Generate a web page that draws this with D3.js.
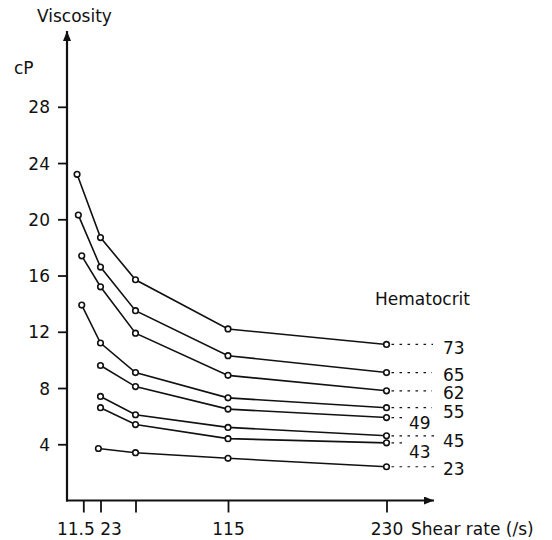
<!DOCTYPE html>
<html>
<head>
<meta charset="utf-8">
<script src="https://cdn.jsdelivr.net/npm/d3@7"></script>
<style>
  body { margin: 0; background: #fff; }
  svg text { font-family: "DejaVu Sans", sans-serif; font-size: 17px; fill: #111; }
</style>
</head>
<body>
<div class="chart"></div>
<script>
// hematocrit of each curve (%)
const hematocrit = ["73", "65", "62", "55", "49", "45", "43", "23"];
// shear rate of each point (/s)
const shear_rates = [
  [7.1, 23, 46, 115, 230],
  [8.0, 23, 46, 115, 230],
  [10.4, 23, 46, 115, 230],
  [10.4, 23, 46, 115, 230],
  [23, 46, 115, 230],
  [23, 46, 115, 230],
  [23, 46, 115, 230],
  [21.6, 46, 115, 230],
];
// viscosity (cP)
const viscosity = [
  [23.2, 18.7, 15.7, 12.2, 11.1],
  [20.3, 16.6, 13.5, 10.3, 9.1],
  [17.4, 15.2, 11.9, 8.9, 7.8],
  [13.9, 11.2, 9.1, 7.3, 6.6],
  [9.6, 8.1, 6.5, 5.9],
  [7.4, 6.1, 5.2, 4.6],
  [6.6, 5.4, 4.4, 4.1],
  [3.7, 3.4, 3.0, 2.4],
];
const x_ticks = [11.5, 23, 46, 115, 230];
const x_tick_labels = ["11.5", "23", "", "115", "230"];
const y_ticks = [4, 8, 12, 16, 20, 24, 28];

const width = 552;
const height = 540;

const svg = d3.select(".chart").append("svg")
  .attr("width", width)
  .attr("height", height);

// the drawing's x axis is not quite even, so follow its ticks
const x = d3.scaleLinear()
  .domain([0, 11.5, 23, 46, 115, 230])
  .range([67, 83.3, 100.5, 135.5, 228, 386.5]);
const y = d3.scaleLinear()
  .domain([0, 28])
  .range([500.5, 106.8]);

// arrow heads
const defs = svg.append("defs");
defs.append("marker")
  .attr("id", "arrow")
  .attr("viewBox", "0 0 10 8")
  .attr("refX", 10).attr("refY", 4)
  .attr("markerWidth", 10).attr("markerHeight", 8)
  .attr("markerUnits", "userSpaceOnUse")
  .attr("orient", "auto")
  .append("path")
    .attr("d", "M0,0 L10,4 L0,8 Z")
    .attr("fill", "#111");

// y axis
const yaxis = svg.append("g")
  .attr("class", "yaxis")
  .attr("transform", `translate(${x(0)},0)`)
  .call(d3.axisLeft(y).tickValues(y_ticks).tickSize(9).tickPadding(8));
yaxis.select(".domain").remove();
yaxis.selectAll("line").attr("stroke", "#111").attr("stroke-width", 1.8);
yaxis.selectAll("text")
  .style("font-size", "17px")
  .attr("dy", "0.36em");

svg.append("line")
  .attr("x1", x(0)).attr("y1", y(0) + 1)
  .attr("x2", x(0)).attr("y2", 31)
  .attr("stroke", "#111").attr("stroke-width", 2.2)
  .attr("marker-end", "url(#arrow)");

// x axis
const xaxis = svg.append("g")
  .attr("class", "xaxis")
  .attr("transform", `translate(0,${y(0)})`)
  .call(d3.axisBottom(x).tickValues(x_ticks).tickSize(12)
    .tickFormat((d, i) => x_tick_labels[i]));
xaxis.select(".domain").remove();
xaxis.selectAll("line").attr("stroke", "#111").attr("stroke-width", 1.8);
xaxis.selectAll("text")
  .style("font-size", "17px")
  .attr("y", 34.5)
  .attr("dy", 0)
  .attr("dx", (d, i) => i === 0 ? -8 : i === 1 ? 10 : 0);

svg.append("line")
  .attr("x1", x(0) - 1).attr("y1", y(0))
  .attr("x2", 434).attr("y2", y(0))
  .attr("stroke", "#111").attr("stroke-width", 2.2)
  .attr("marker-end", "url(#arrow)");

// axis titles
svg.append("text").attr("x", 37).attr("y", 22).text("Viscosity");
svg.append("text").attr("x", 14).attr("y", 74).text("cP");
svg.append("text").attr("x", 411).attr("y", 535).text("Shear rate (/s)");
svg.append("text").attr("x", 375).attr("y", 305).text("Hematocrit");

// curves
const series = hematocrit.map((h, i) => ({
  hct: h,
  points: shear_rates[i].map((r, j) => ({ rate: r, visc: viscosity[i][j] })),
}));

const line = d3.line()
  .x(d => x(d.rate))
  .y(d => y(d.visc));

const chart = svg.append("g").attr("class", "curves");
chart.selectAll("path.curve")
  .data(series)
  .enter()
  .append("path")
    .attr("class", "curve")
    .attr("d", d => line(d.points))
    .attr("fill", "none")
    .attr("stroke", "#111")
    .attr("stroke-width", 1.6);

// dotted leaders and hematocrit labels
const label_layout = {
  "73": { x: 443, dy: 9.3, end: 433 },
  "65": { x: 443, dy: 8.5, end: 432 },
  "62": { x: 443, dy: 8.3, end: 432 },
  "55": { x: 443, dy: 10, end: 432 },
  "49": { x: 409, dy: 11.7, end: 407 },
  "45": { x: 443, dy: 11.3, end: 438 },
  "43": { x: 409, dy: 14.7, end: 407 },
  "23": { x: 443, dy: 8.5, end: 438 },
};
const last = d => d.points[d.points.length - 1];

chart.selectAll("line.leader")
  .data(series)
  .enter()
  .append("line")
    .attr("class", "leader")
    .attr("x1", d => x(last(d).rate) + 5)
    .attr("y1", d => y(last(d).visc))
    .attr("x2", d => label_layout[d.hct].end)
    .attr("y2", d => y(last(d).visc))
    .attr("stroke", "#111")
    .attr("stroke-width", 1.2)
    .attr("stroke-dasharray", "2.5,5.5");

chart.selectAll("text.hct")
  .data(series)
  .enter()
  .append("text")
    .attr("class", "hct")
    .attr("x", d => label_layout[d.hct].x)
    .attr("y", d => y(last(d).visc) + label_layout[d.hct].dy)
    .text(d => d.hct);

// points
chart.selectAll("g.points")
  .data(series)
  .enter()
  .append("g")
    .attr("class", "points")
  .selectAll("circle")
  .data(d => d.points)
  .enter()
  .append("circle")
    .attr("cx", d => x(d.rate))
    .attr("cy", d => y(d.visc))
    .attr("r", 2.8)
    .attr("fill", "#fff")
    .attr("stroke", "#111")
    .attr("stroke-width", 1.6);
</script>
</body>
</html>
